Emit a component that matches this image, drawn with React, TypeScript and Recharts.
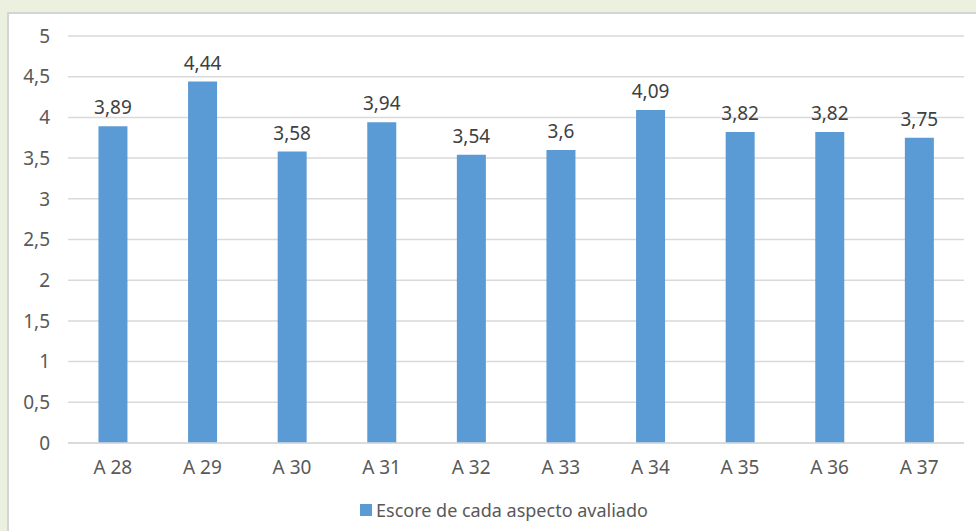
import React from "react";
import { BarChart, Bar, XAxis, YAxis, CartesianGrid, LabelList } from "recharts";

const categories = ["A 28", "A 29", "A 30", "A 31", "A 32", "A 33", "A 34", "A 35", "A 36", "A 37"];
const scores = [3.89, 4.44, 3.58, 3.94, 3.54, 3.6, 4.09, 3.82, 3.82, 3.75];
const yTicks = [0, 0.5, 1, 1.5, 2, 2.5, 3, 3.5, 4, 4.5, 5];
const seriesName = "Escore de cada aspecto avaliado";

const data = categories.map((name, i) => ({ name, score: scores[i] }));

const FONT = "'Noto Sans', 'Open Sans', sans-serif";
const BAR_COLOR = "#5B9BD5";
const TEXT_COLOR = "#595959";

const fmt = (v: number | string) => String(v).replace(".", ",");

export default function App() {
  return (
    <div
      style={{
        position: "absolute",
        left: 0,
        top: 0,
        width: 976,
        height: 531,
        background: "#EBF1DE",
        overflow: "hidden",
        fontFamily: FONT,
      }}
    >
      <div
        style={{
          position: "absolute",
          left: 7,
          top: 12,
          width: 990,
          height: 540,
          background: "#FFFFFF",
          border: "2px solid #D4D4D4",
          boxSizing: "border-box",
        }}
      />
      <div style={{ position: "absolute", left: 0, top: 0 }}>
        <BarChart
          width={976}
          height={531}
          data={data}
          margin={{ top: 36, right: 12, bottom: 58, left: 8 }}
          barCategoryGap="34%"
        >
          <CartesianGrid vertical={false} stroke="#D9D9D9" strokeWidth={1.5} />
          <XAxis
            dataKey="name"
            height={30}
            tickLine={false}
            axisLine={{ stroke: "#D9D9D9", strokeWidth: 1.5 }}
            tickSize={0}
            tickMargin={18}
            tick={{ fill: TEXT_COLOR, fontSize: 19, fontFamily: FONT }}
            interval={0}
          />
          <YAxis
            width={60}
            domain={[0, 5]}
            ticks={yTicks}
            axisLine={false}
            tickLine={false}
            tickSize={0}
            tickMargin={18}
            tickFormatter={fmt}
            tick={{ fill: TEXT_COLOR, fontSize: 19, fontFamily: FONT }}
          />
          <Bar dataKey="score" name={seriesName} fill={BAR_COLOR} isAnimationActive={false}>
            <LabelList
              dataKey="score"
              position="top"
              offset={12}
              formatter={fmt}
              style={{ fill: "#404040", fontSize: 19, fontFamily: FONT }}
            />
          </Bar>
        </BarChart>
      </div>
      <div
        style={{
          position: "absolute",
          left: 360,
          top: 498,
          display: "flex",
          alignItems: "center",
          height: 24,
          color: TEXT_COLOR,
          fontSize: 18,
          whiteSpace: "nowrap",
        }}
      >
        <span style={{ display: "inline-block", width: 12, height: 12, background: BAR_COLOR, marginRight: 4 }} />
        <span>{seriesName}</span>
      </div>
    </div>
  );
}
